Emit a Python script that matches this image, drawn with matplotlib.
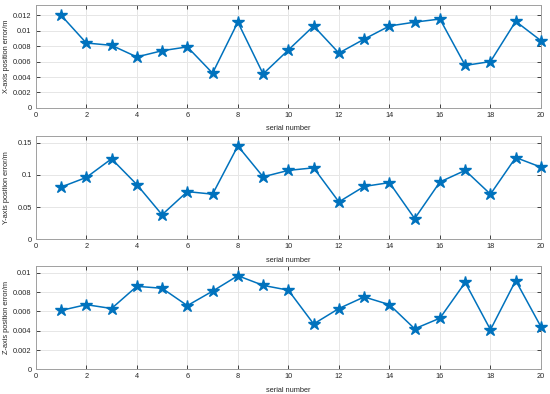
import matplotlib
matplotlib.use("Agg")
import matplotlib.pyplot as plt

serial = list(range(1, 21))
x_err = [0.0120, 0.0084, 0.0081, 0.0066, 0.0074, 0.0079, 0.0045, 0.0111, 0.0044, 0.0075,
         0.0106, 0.0071, 0.0089, 0.0106, 0.0111, 0.0115, 0.0055, 0.0060, 0.0112, 0.0087]
y_err = [0.081, 0.096, 0.125, 0.085, 0.038, 0.074, 0.070, 0.145, 0.097, 0.107,
         0.111, 0.058, 0.082, 0.088, 0.032, 0.089, 0.107, 0.070, 0.127, 0.112]
z_err = [0.0061, 0.0067, 0.0063, 0.0086, 0.0084, 0.0066, 0.0081, 0.0097, 0.0087, 0.0082,
         0.0047, 0.0063, 0.0075, 0.0067, 0.0042, 0.0053, 0.0090, 0.0041, 0.0092, 0.0044]

ylabels = ["X-axis position error/m", "Y-axis position error/m", "Z-axis position error/m"]
yticks = [[0, 0.002, 0.004, 0.006, 0.008, 0.01, 0.012],
          [0, 0.05, 0.1, 0.15],
          [0, 0.002, 0.004, 0.006, 0.008, 0.01]]
yticklabels = [["0", "0.002", "0.004", "0.006", "0.008", "0.01", "0.012"],
               ["0", "0.05", "0.1", "0.15"],
               ["0", "0.002", "0.004", "0.006", "0.008", "0.01"]]
ylims = [(0, 0.0133), (0, 0.16), (0, 0.0107)]
xticks = list(range(0, 21, 2))

plt.rcParams['font.family'] = ['Liberation Sans', 'DejaVu Sans']
fig = plt.figure(figsize=(5.5, 3.94), dpi=100)
color = '#0072BD'
rects = [[0.065, 0.726, 0.9186, 0.261],
         [0.065, 0.393, 0.9186, 0.261],
         [0.065, 0.0627, 0.9186, 0.262]]
fs = 5.3
for i, data in enumerate([x_err, y_err, z_err]):
    ax = fig.add_axes(rects[i])
    ax.plot(serial, data, '-', color=color, lw=1.1, marker='*', markersize=9,
            markerfacecolor=color, markeredgecolor=color, clip_on=False, zorder=3)
    ax.set_xlim(0, 20)
    ax.set_ylim(*ylims[i])
    ax.set_xticks(xticks)
    ax.set_xticklabels([str(t) for t in xticks])
    ax.set_yticks(yticks[i])
    ax.set_yticklabels(yticklabels[i])
    ax.grid(True, color='#e6e6e6', lw=0.7)
    ax.set_axisbelow(True)
    ax.tick_params(direction='in', length=3, width=0.6, labelsize=fs,
                   colors='#262626', top=True, right=True, pad=3)
    for s in ax.spines.values():
        s.set_color('#a0a0a0')
        s.set_linewidth(0.7)
    ax.set_ylabel(ylabels[i], fontsize=fs, color='#262626')
    ax.yaxis.set_label_coords(-0.0505, 0.5)
    ax.set_xlabel("serial number", fontsize=fs, color='#262626')
    ax.xaxis.set_label_coords(0.5, -0.17)

fig.savefig("out.png", dpi=100)
